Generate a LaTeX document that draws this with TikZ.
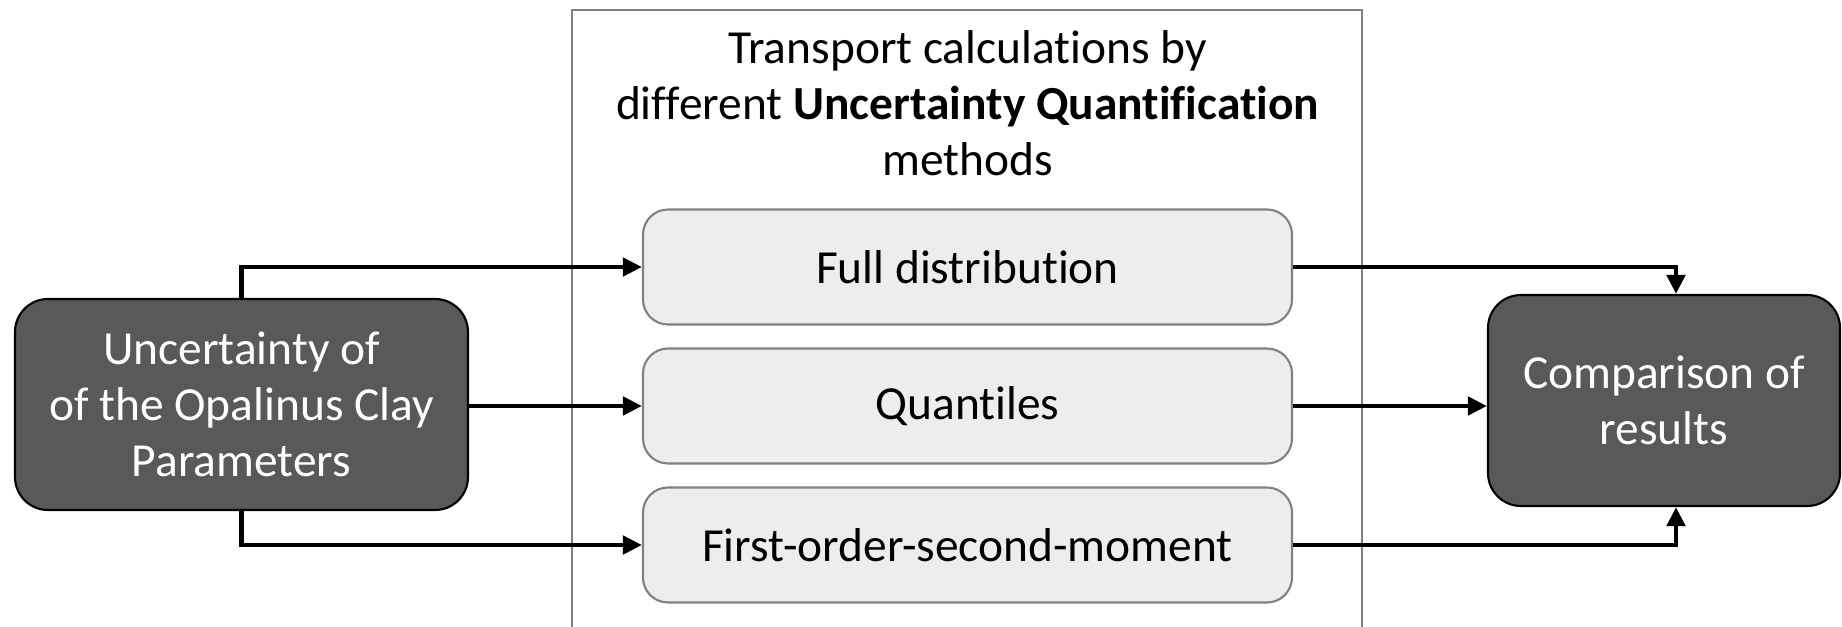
\documentclass[tikz,border=0pt]{standalone}
\usepackage{fontspec}
\setmainfont{Carlito}[Ligatures=NoCommon]
\usetikzlibrary{shapes, arrows.meta, positioning}
\definecolor{darkbox}{HTML}{595959}
\definecolor{lightbox}{HTML}{EDEDED}
\definecolor{frameline}{HTML}{808080}
\tikzstyle{darknode} = [rectangle, rounded corners=0.66cm,
minimum width=9.06cm,
minimum height=4.22cm,
align=center,
draw=black,
line width=1.2pt,
fill=darkbox,
text=white,
font=\fontsize{27}{32}\selectfont]
\tikzstyle{method} = [rectangle, rounded corners=0.5cm,
minimum width=12.98cm,
minimum height=2.3cm,
align=center,
draw=frameline,
line width=1.2pt,
fill=lightbox,
font=\fontsize{27}{32}\selectfont]
\tikzstyle{arrow} = [line width=2.8pt, -{Triangle[length=0.38cm,width=0.36cm]}]
\begin{document}
\begin{tikzpicture}[node distance=2.78cm]
\useasboundingbox (0,0) rectangle (36.84,-12.54);

% frame around the methods
\draw [frameline, line width=1.2pt] (11.44,-13) -- (11.44,-0.2) -- (27.24,-0.2) -- (27.24,-13);
\node (title) [align=center, font=\fontsize{27}{32}\selectfont] at (19.35,-2.06) {Transport calculations by\\ different \textbf{Uncertainty Quantification}\\ methods};

\node (fd) [method] at (19.35,-5.34) {Full distribution};
\node (qnt) [method, below of=fd] {Quantiles};
\node (fosm) [method, below of=qnt] {First-order-second-moment};

\node (src) [darknode] at (4.83,-8.09) {Uncertainty of\\ of the Opalinus Clay\\ Parameters};
\node (cmp) [darknode, minimum width=7.04cm] at (33.28,-8.01) {Comparison of\\ results};

\draw [arrow] (src.north) |- (fd.west);
\draw [arrow] (src.east |- qnt) -- (qnt.west);
\draw [arrow] (src.south) |- (fosm.west);

\draw [arrow] (fd.east) -| ([xshift=0.24cm]cmp.north);
\draw [arrow] (qnt.east) -- (qnt -| cmp.west);
\draw [arrow] (fosm.east) -| ([xshift=0.24cm]cmp.south);

\end{tikzpicture}
\end{document}
